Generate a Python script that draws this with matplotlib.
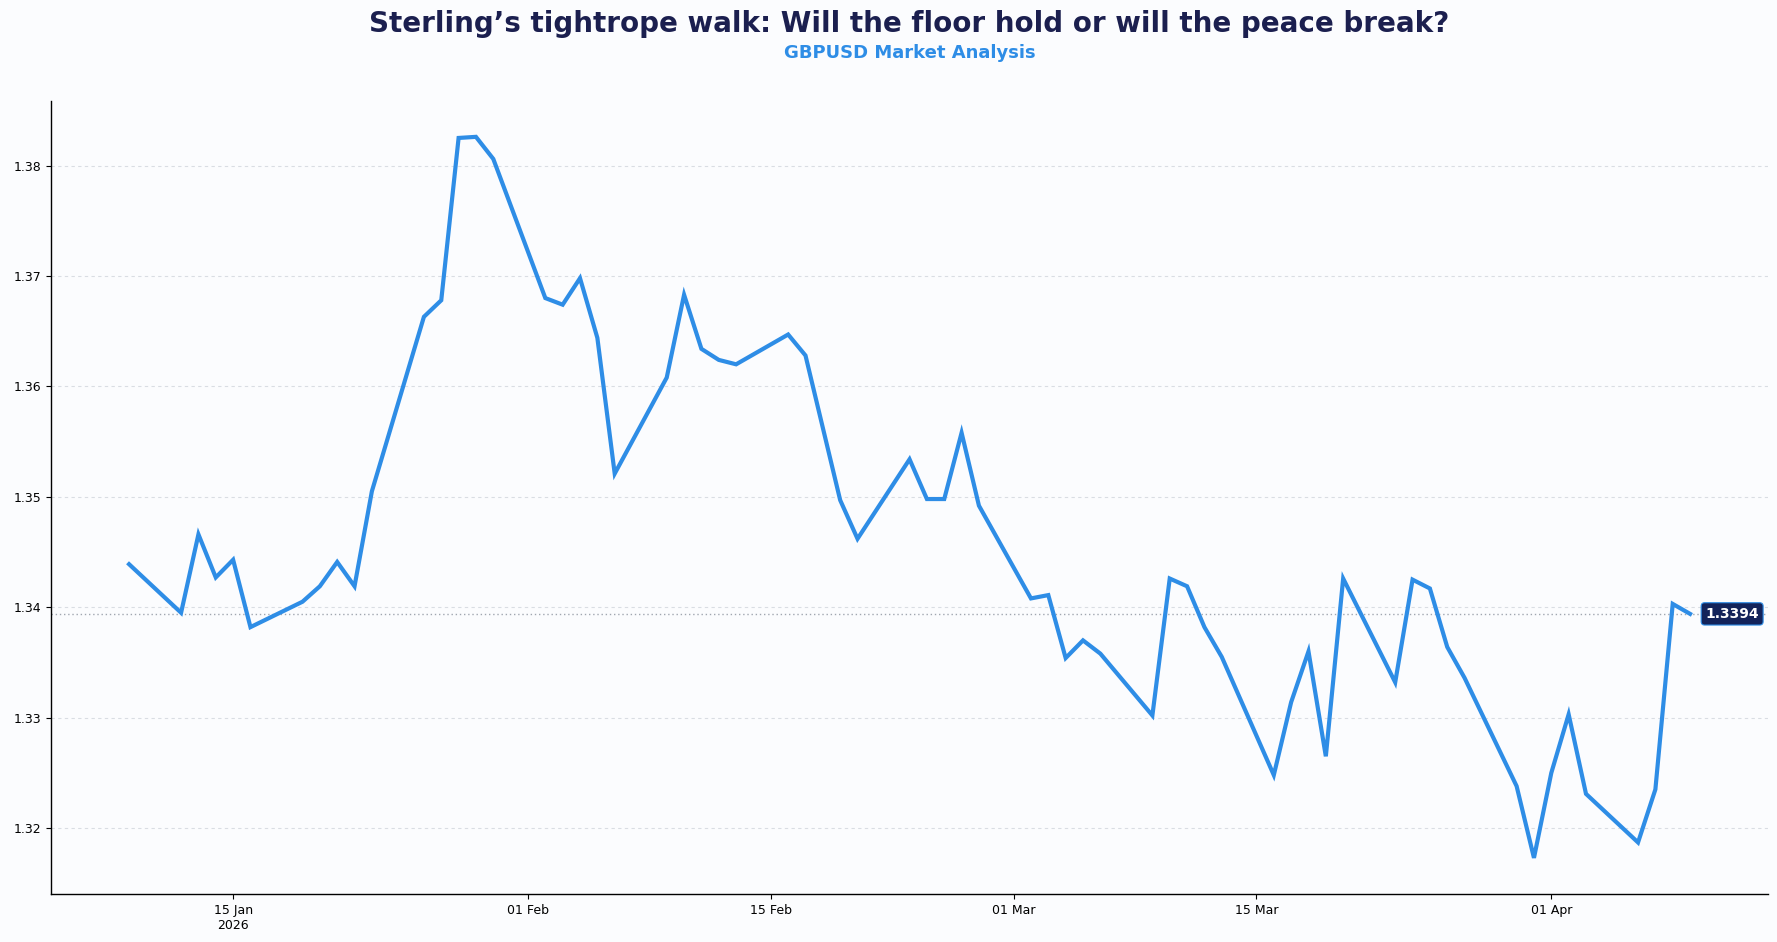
import datetime as dt

import matplotlib
matplotlib.use("Agg")
import matplotlib.dates as mdates
import matplotlib.pyplot as plt
from matplotlib.ticker import FuncFormatter

# GBPUSD daily closes (business days)
dates = [
    "2026-01-09", "2026-01-12", "2026-01-13", "2026-01-14", "2026-01-15", "2026-01-16",
    "2026-01-19", "2026-01-20", "2026-01-21", "2026-01-22", "2026-01-23",
    "2026-01-26", "2026-01-27", "2026-01-28", "2026-01-29", "2026-01-30",
    "2026-02-02", "2026-02-03", "2026-02-04", "2026-02-05", "2026-02-06",
    "2026-02-09", "2026-02-10", "2026-02-11", "2026-02-12", "2026-02-13",
    "2026-02-16", "2026-02-17", "2026-02-19", "2026-02-20",
    "2026-02-23", "2026-02-24", "2026-02-25", "2026-02-26", "2026-02-27",
    "2026-03-02", "2026-03-03", "2026-03-04", "2026-03-05", "2026-03-06",
    "2026-03-09", "2026-03-10", "2026-03-11", "2026-03-12", "2026-03-13",
    "2026-03-16", "2026-03-17", "2026-03-18", "2026-03-19", "2026-03-20",
    "2026-03-23", "2026-03-24", "2026-03-25", "2026-03-26", "2026-03-27",
    "2026-03-30", "2026-03-31", "2026-04-01", "2026-04-02", "2026-04-03",
    "2026-04-06", "2026-04-07", "2026-04-08", "2026-04-09",
]
closes = [
    1.3439, 1.3395, 1.3466, 1.3427, 1.3443, 1.3382,
    1.3405, 1.3419, 1.3441, 1.3419, 1.3505,
    1.3663, 1.3678, 1.3825, 1.3826, 1.3806,
    1.3680, 1.3674, 1.3698, 1.3644, 1.3521,
    1.3608, 1.3683, 1.3634, 1.3624, 1.3620,
    1.3647, 1.3628, 1.3497, 1.3462,
    1.3534, 1.3498, 1.3498, 1.3558, 1.3492,
    1.3408, 1.3411, 1.3354, 1.3370, 1.3358,
    1.3302, 1.3426, 1.3419, 1.3382, 1.3355,
    1.3248, 1.3314, 1.3360, 1.3265, 1.3426,
    1.3332, 1.3425, 1.3417, 1.3364, 1.3336,
    1.3238, 1.3173, 1.3250, 1.3303, 1.3231,
    1.3187, 1.3235, 1.3403, 1.3394,
]

TITLE = "Sterling\u2019s tightrope walk: Will the floor hold or will the peace break?"
SUBTITLE = "GBPUSD Market Analysis"

_BG = "#fbfcfe"
_LINE = "#2e8de6"
_NAVY = "#1b1f4f"
_BOX = "#13235a"

x = [dt.datetime.strptime(d, "%Y-%m-%d") for d in dates]

fig = plt.figure(figsize=(17.77, 9.42), dpi=100, facecolor=_BG)
ax = fig.add_axes([0.0287, 0.051, 0.9663, 0.842], facecolor=_BG)

ax.plot(x, closes, color=_LINE, lw=3, solid_joinstyle="miter", zorder=3)

last = closes[-1]
ax.axhline(last, color="#a0a6b0", lw=1, ls=(0, (1, 2)), zorder=2)
ax.annotate(f"{last:.4f}", (x[-1], last), xytext=(11, 0), textcoords="offset points",
            ha="left", va="center", fontsize=10, fontweight="bold", color="white",
            bbox=dict(boxstyle="round,pad=0.3,rounding_size=0.25", fc=_BOX, ec=_LINE, lw=0.8),
            zorder=5)

ax.grid(axis="y", color="#d9dde3", ls=(0, (3, 3)), lw=0.8)
ax.set_axisbelow(True)

for side in ("top", "right"):
    ax.spines[side].set_visible(False)
for side in ("left", "bottom"):
    ax.spines[side].set_color("black")
    ax.spines[side].set_linewidth(1.0)

ax.xaxis.set_major_locator(mdates.DayLocator(bymonthday=[1, 15]))


def _date_label(v, pos):
    d = mdates.num2date(v)
    s = d.strftime("%d %b")
    if pos == 0:
        s += "\n" + d.strftime("%Y")
    return s


ax.xaxis.set_major_formatter(FuncFormatter(_date_label))
ax.tick_params(axis="both", labelsize=9, colors="black")
ax.margins(x=0.05, y=0.05)

cx = 0.0287 + 0.9663 / 2
fig.text(cx, 0.9745, TITLE, ha="center", va="center", fontsize=20,
         fontweight="bold", color=_NAVY)
fig.text(cx, 0.944, SUBTITLE, ha="center", va="center", fontsize=13,
         fontweight="bold", color=_LINE)

fig.savefig("out.png", dpi=100, facecolor=_BG)
